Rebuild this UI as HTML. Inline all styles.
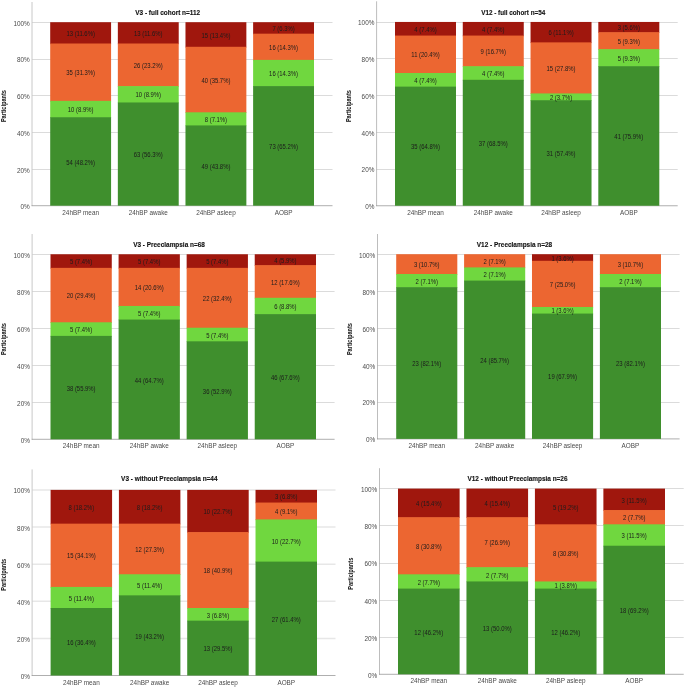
<!DOCTYPE html>
<html><head><meta charset="utf-8"><title>Figure</title>
<style>
html,body{margin:0;padding:0;background:#fff}
svg{display:block}
text{font-family:"Liberation Sans",sans-serif}
.yt{font-size:6.6px;fill:#4a4a4a;text-anchor:end}
.xt{font-size:6.9px;fill:#4a4a4a;text-anchor:middle}
.tt{font-size:6.45px;stroke:#111;stroke-width:0.12px;font-weight:bold;fill:#111;text-anchor:middle}
.pl{font-size:6.6px;font-weight:bold;fill:#111;text-anchor:middle}
.bl{font-size:6.5px;fill:#1c1c1c;text-anchor:middle}
</style></head><body>
<svg width="685" height="687" viewBox="0 0 685 687">
<rect x="0" y="0" width="685" height="687" fill="#ffffff"/>
<g id="chart1">
<line x1="32.0" y1="169.50" x2="332.5" y2="169.50" stroke="#dbdbdb" stroke-width="1"/>
<line x1="32.0" y1="132.50" x2="332.5" y2="132.50" stroke="#dbdbdb" stroke-width="1"/>
<line x1="32.0" y1="95.50" x2="332.5" y2="95.50" stroke="#dbdbdb" stroke-width="1"/>
<line x1="32.0" y1="59.50" x2="332.5" y2="59.50" stroke="#dbdbdb" stroke-width="1"/>
<line x1="32.0" y1="22.50" x2="332.5" y2="22.50" stroke="#dbdbdb" stroke-width="1"/>
<line x1="32.0" y1="2" x2="32.0" y2="206.1" stroke="#c8c8c8" stroke-width="1.0"/>
<line x1="31.6" y1="205.7" x2="332.5" y2="205.7" stroke="#8c8c8c" stroke-width="0.7"/>
<text class="yt" transform="translate(29.80,209.20) scale(0.97,1)">0%</text>
<text class="yt" transform="translate(29.80,172.50) scale(0.97,1)">20%</text>
<text class="yt" transform="translate(29.80,135.80) scale(0.97,1)">40%</text>
<text class="yt" transform="translate(29.80,99.10) scale(0.97,1)">60%</text>
<text class="yt" transform="translate(29.80,62.40) scale(0.97,1)">80%</text>
<text class="yt" transform="translate(29.80,25.70) scale(0.97,1)">100%</text>
<rect x="50.20" y="22.20" width="60.88" height="22.00" fill="#a0170d"/>
<rect x="50.20" y="43.50" width="60.88" height="58.04" fill="#ec6631"/>
<rect x="50.20" y="100.84" width="60.88" height="17.08" fill="#70d73f"/>
<rect x="50.20" y="117.23" width="60.88" height="88.47" fill="#3f8f2d"/>
<text class="bl" transform="translate(80.64,164.66) scale(0.91,1)">54 (48.2%)</text>
<text class="bl" transform="translate(80.64,112.23) scale(0.91,1)">10 (8.9%)</text>
<text class="bl" transform="translate(80.64,75.37) scale(0.91,1)">35 (31.3%)</text>
<text class="bl" transform="translate(80.64,36.05) scale(0.91,1)">13 (11.6%)</text>
<text class="xt" transform="translate(80.64,214.80) scale(0.925,1)">24hBP mean</text>
<rect x="117.84" y="22.20" width="60.88" height="22.00" fill="#a0170d"/>
<rect x="117.84" y="43.50" width="60.88" height="43.30" fill="#ec6631"/>
<rect x="117.84" y="86.10" width="60.88" height="17.08" fill="#70d73f"/>
<rect x="117.84" y="102.48" width="60.88" height="103.22" fill="#3f8f2d"/>
<text class="bl" transform="translate(148.28,157.29) scale(0.91,1)">63 (56.3%)</text>
<text class="bl" transform="translate(148.28,97.49) scale(0.91,1)">10 (8.9%)</text>
<text class="bl" transform="translate(148.28,68.00) scale(0.91,1)">26 (23.2%)</text>
<text class="bl" transform="translate(148.28,36.05) scale(0.91,1)">13 (11.6%)</text>
<text class="xt" transform="translate(148.28,214.80) scale(0.925,1)">24hBP awake</text>
<rect x="185.48" y="22.20" width="60.88" height="25.28" fill="#a0170d"/>
<rect x="185.48" y="46.78" width="60.88" height="66.24" fill="#ec6631"/>
<rect x="185.48" y="112.31" width="60.88" height="13.81" fill="#70d73f"/>
<rect x="185.48" y="125.42" width="60.88" height="80.28" fill="#3f8f2d"/>
<text class="bl" transform="translate(215.92,168.76) scale(0.91,1)">49 (43.8%)</text>
<text class="bl" transform="translate(215.92,122.07) scale(0.91,1)">8 (7.1%)</text>
<text class="bl" transform="translate(215.92,82.74) scale(0.91,1)">40 (35.7%)</text>
<text class="bl" transform="translate(215.92,37.69) scale(0.91,1)">15 (13.4%)</text>
<text class="xt" transform="translate(215.92,214.80) scale(0.925,1)">24hBP asleep</text>
<rect x="253.12" y="22.20" width="60.88" height="12.17" fill="#a0170d"/>
<rect x="253.12" y="33.67" width="60.88" height="26.91" fill="#ec6631"/>
<rect x="253.12" y="59.88" width="60.88" height="26.91" fill="#70d73f"/>
<rect x="253.12" y="86.10" width="60.88" height="119.60" fill="#3f8f2d"/>
<text class="bl" transform="translate(283.56,149.10) scale(0.91,1)">73 (65.2%)</text>
<text class="bl" transform="translate(283.56,76.19) scale(0.91,1)">16 (14.3%)</text>
<text class="bl" transform="translate(283.56,49.98) scale(0.91,1)">16 (14.3%)</text>
<text class="bl" transform="translate(283.56,31.13) scale(0.91,1)">7 (6.3%)</text>
<text class="xt" transform="translate(283.56,214.80) scale(0.925,1)">AOBP</text>
<text class="tt" transform="translate(167.7,14.5) scale(1,1)">V3 - full cohort n=112</text>
<text class="pl" transform="translate(6.0,106.1) rotate(-90) scale(0.85,1)">Participants</text>
</g>
<g id="chart2">
<line x1="376.6" y1="169.50" x2="677.7" y2="169.50" stroke="#dbdbdb" stroke-width="1"/>
<line x1="376.6" y1="132.50" x2="677.7" y2="132.50" stroke="#dbdbdb" stroke-width="1"/>
<line x1="376.6" y1="95.50" x2="677.7" y2="95.50" stroke="#dbdbdb" stroke-width="1"/>
<line x1="376.6" y1="58.50" x2="677.7" y2="58.50" stroke="#dbdbdb" stroke-width="1"/>
<line x1="376.6" y1="22.50" x2="677.7" y2="22.50" stroke="#dbdbdb" stroke-width="1"/>
<line x1="376.6" y1="1.3" x2="376.6" y2="206.15" stroke="#909090" stroke-width="0.6"/>
<line x1="376.20000000000005" y1="205.75" x2="677.7" y2="205.75" stroke="#8c8c8c" stroke-width="0.7"/>
<text class="yt" transform="translate(374.40,209.25) scale(0.97,1)">0%</text>
<text class="yt" transform="translate(374.40,172.49) scale(0.97,1)">20%</text>
<text class="yt" transform="translate(374.40,135.73) scale(0.97,1)">40%</text>
<text class="yt" transform="translate(374.40,98.97) scale(0.97,1)">60%</text>
<text class="yt" transform="translate(374.40,62.21) scale(0.97,1)">80%</text>
<text class="yt" transform="translate(374.40,25.45) scale(0.97,1)">100%</text>
<rect x="395.00" y="21.95" width="60.99" height="14.31" fill="#a0170d"/>
<rect x="395.00" y="35.56" width="60.99" height="38.14" fill="#ec6631"/>
<rect x="395.00" y="73.01" width="60.99" height="14.31" fill="#70d73f"/>
<rect x="395.00" y="86.62" width="60.99" height="119.13" fill="#3f8f2d"/>
<text class="bl" transform="translate(425.50,149.39) scale(0.91,1)">35 (64.8%)</text>
<text class="bl" transform="translate(425.50,83.01) scale(0.91,1)">4 (7.4%)</text>
<text class="bl" transform="translate(425.50,57.49) scale(0.91,1)">11 (20.4%)</text>
<text class="bl" transform="translate(425.50,31.96) scale(0.91,1)">4 (7.4%)</text>
<text class="xt" transform="translate(425.50,214.85) scale(0.925,1)">24hBP mean</text>
<rect x="462.77" y="21.95" width="60.99" height="14.31" fill="#a0170d"/>
<rect x="462.77" y="35.56" width="60.99" height="31.33" fill="#ec6631"/>
<rect x="462.77" y="66.20" width="60.99" height="14.31" fill="#70d73f"/>
<rect x="462.77" y="79.81" width="60.99" height="125.94" fill="#3f8f2d"/>
<text class="bl" transform="translate(493.27,145.98) scale(0.91,1)">37 (68.5%)</text>
<text class="bl" transform="translate(493.27,76.21) scale(0.91,1)">4 (7.4%)</text>
<text class="bl" transform="translate(493.27,54.08) scale(0.91,1)">9 (16.7%)</text>
<text class="bl" transform="translate(493.27,31.96) scale(0.91,1)">4 (7.4%)</text>
<text class="xt" transform="translate(493.27,214.85) scale(0.925,1)">24hBP awake</text>
<rect x="530.54" y="21.95" width="60.99" height="21.12" fill="#a0170d"/>
<rect x="530.54" y="42.37" width="60.99" height="51.76" fill="#ec6631"/>
<rect x="530.54" y="93.43" width="60.99" height="7.51" fill="#70d73f"/>
<rect x="530.54" y="100.24" width="60.99" height="105.51" fill="#3f8f2d"/>
<text class="bl" transform="translate(561.03,156.19) scale(0.91,1)">31 (57.4%)</text>
<text class="bl" transform="translate(561.03,100.03) scale(0.91,1)">2 (3.7%)</text>
<text class="bl" transform="translate(561.03,71.10) scale(0.91,1)">15 (27.8%)</text>
<text class="bl" transform="translate(561.03,35.36) scale(0.91,1)">6 (11.1%)</text>
<text class="xt" transform="translate(561.03,214.85) scale(0.925,1)">24hBP asleep</text>
<rect x="598.31" y="21.95" width="60.99" height="10.91" fill="#a0170d"/>
<rect x="598.31" y="32.16" width="60.99" height="17.72" fill="#ec6631"/>
<rect x="598.31" y="49.18" width="60.99" height="17.72" fill="#70d73f"/>
<rect x="598.31" y="66.20" width="60.99" height="139.55" fill="#3f8f2d"/>
<text class="bl" transform="translate(628.80,139.17) scale(0.91,1)">41 (75.9%)</text>
<text class="bl" transform="translate(628.80,60.89) scale(0.91,1)">5 (9.3%)</text>
<text class="bl" transform="translate(628.80,43.87) scale(0.91,1)">5 (9.3%)</text>
<text class="bl" transform="translate(628.80,30.26) scale(0.91,1)">3 (5.6%)</text>
<text class="xt" transform="translate(628.80,214.85) scale(0.925,1)">AOBP</text>
<text class="tt" transform="translate(513.2,15.3) scale(0.98,1)">V12 - full cohort n=54</text>
<text class="pl" transform="translate(351.3,106.1) rotate(-90) scale(0.85,1)">Participants</text>
</g>
<g id="chart3">
<line x1="32.1" y1="402.50" x2="334.6" y2="402.50" stroke="#dbdbdb" stroke-width="1"/>
<line x1="32.1" y1="365.50" x2="334.6" y2="365.50" stroke="#dbdbdb" stroke-width="1"/>
<line x1="32.1" y1="328.50" x2="334.6" y2="328.50" stroke="#dbdbdb" stroke-width="1"/>
<line x1="32.1" y1="291.50" x2="334.6" y2="291.50" stroke="#dbdbdb" stroke-width="1"/>
<line x1="32.1" y1="254.50" x2="334.6" y2="254.50" stroke="#dbdbdb" stroke-width="1"/>
<line x1="32.1" y1="234" x2="32.1" y2="439.7" stroke="#c8c8c8" stroke-width="1.0"/>
<line x1="31.700000000000003" y1="439.3" x2="334.6" y2="439.3" stroke="#8c8c8c" stroke-width="0.7"/>
<text class="yt" transform="translate(29.90,442.80) scale(0.97,1)">0%</text>
<text class="yt" transform="translate(29.90,405.79) scale(0.97,1)">20%</text>
<text class="yt" transform="translate(29.90,368.78) scale(0.97,1)">40%</text>
<text class="yt" transform="translate(29.90,331.77) scale(0.97,1)">60%</text>
<text class="yt" transform="translate(29.90,294.76) scale(0.97,1)">80%</text>
<text class="yt" transform="translate(29.90,257.75) scale(0.97,1)">100%</text>
<rect x="50.50" y="254.25" width="61.27" height="14.31" fill="#a0170d"/>
<rect x="50.50" y="267.86" width="61.27" height="55.13" fill="#ec6631"/>
<rect x="50.50" y="322.28" width="61.27" height="14.31" fill="#70d73f"/>
<rect x="50.50" y="335.89" width="61.27" height="103.41" fill="#3f8f2d"/>
<text class="bl" transform="translate(81.13,390.79) scale(0.91,1)">38 (55.9%)</text>
<text class="bl" transform="translate(81.13,332.29) scale(0.91,1)">5 (7.4%)</text>
<text class="bl" transform="translate(81.13,298.27) scale(0.91,1)">20 (29.4%)</text>
<text class="bl" transform="translate(81.13,264.25) scale(0.91,1)">5 (7.4%)</text>
<text class="xt" transform="translate(81.13,448.40) scale(0.925,1)">24hBP mean</text>
<rect x="118.58" y="254.25" width="61.27" height="14.31" fill="#a0170d"/>
<rect x="118.58" y="267.86" width="61.27" height="38.80" fill="#ec6631"/>
<rect x="118.58" y="305.96" width="61.27" height="14.31" fill="#70d73f"/>
<rect x="118.58" y="319.56" width="61.27" height="119.74" fill="#3f8f2d"/>
<text class="bl" transform="translate(149.21,382.63) scale(0.91,1)">44 (64.7%)</text>
<text class="bl" transform="translate(149.21,315.96) scale(0.91,1)">5 (7.4%)</text>
<text class="bl" transform="translate(149.21,290.11) scale(0.91,1)">14 (20.6%)</text>
<text class="bl" transform="translate(149.21,264.25) scale(0.91,1)">5 (7.4%)</text>
<text class="xt" transform="translate(149.21,448.40) scale(0.925,1)">24hBP awake</text>
<rect x="186.65" y="254.25" width="61.27" height="14.31" fill="#a0170d"/>
<rect x="186.65" y="267.86" width="61.27" height="60.57" fill="#ec6631"/>
<rect x="186.65" y="327.73" width="61.27" height="14.31" fill="#70d73f"/>
<rect x="186.65" y="341.33" width="61.27" height="97.97" fill="#3f8f2d"/>
<text class="bl" transform="translate(217.29,393.52) scale(0.91,1)">36 (52.9%)</text>
<text class="bl" transform="translate(217.29,337.73) scale(0.91,1)">5 (7.4%)</text>
<text class="bl" transform="translate(217.29,300.99) scale(0.91,1)">22 (32.4%)</text>
<text class="bl" transform="translate(217.29,264.25) scale(0.91,1)">5 (7.4%)</text>
<text class="xt" transform="translate(217.29,448.40) scale(0.925,1)">24hBP asleep</text>
<rect x="254.73" y="254.25" width="61.27" height="11.59" fill="#a0170d"/>
<rect x="254.73" y="265.14" width="61.27" height="33.36" fill="#ec6631"/>
<rect x="254.73" y="297.79" width="61.27" height="17.03" fill="#70d73f"/>
<rect x="254.73" y="314.12" width="61.27" height="125.18" fill="#3f8f2d"/>
<text class="bl" transform="translate(285.37,379.91) scale(0.91,1)">46 (67.6%)</text>
<text class="bl" transform="translate(285.37,309.16) scale(0.91,1)">6 (8.8%)</text>
<text class="bl" transform="translate(285.37,284.66) scale(0.91,1)">12 (17.6%)</text>
<text class="bl" transform="translate(285.37,262.89) scale(0.91,1)">4 (5.9%)</text>
<text class="xt" transform="translate(285.37,448.40) scale(0.925,1)">AOBP</text>
<text class="tt" transform="translate(169,247.4) scale(1,1)">V3 - Preeclampsia n=68</text>
<text class="pl" transform="translate(6.0,339.1) rotate(-90) scale(0.85,1)">Participants</text>
</g>
<g id="chart4">
<line x1="377.5" y1="402.50" x2="679.6" y2="402.50" stroke="#dbdbdb" stroke-width="1"/>
<line x1="377.5" y1="365.50" x2="679.6" y2="365.50" stroke="#dbdbdb" stroke-width="1"/>
<line x1="377.5" y1="328.50" x2="679.6" y2="328.50" stroke="#dbdbdb" stroke-width="1"/>
<line x1="377.5" y1="291.50" x2="679.6" y2="291.50" stroke="#dbdbdb" stroke-width="1"/>
<line x1="377.5" y1="254.50" x2="679.6" y2="254.50" stroke="#dbdbdb" stroke-width="1"/>
<line x1="377.5" y1="234" x2="377.5" y2="439.29999999999995" stroke="#909090" stroke-width="0.6"/>
<line x1="377.1" y1="438.9" x2="679.6" y2="438.9" stroke="#8c8c8c" stroke-width="0.7"/>
<text class="yt" transform="translate(375.30,442.40) scale(0.97,1)">0%</text>
<text class="yt" transform="translate(375.30,405.46) scale(0.97,1)">20%</text>
<text class="yt" transform="translate(375.30,368.52) scale(0.97,1)">40%</text>
<text class="yt" transform="translate(375.30,331.58) scale(0.97,1)">60%</text>
<text class="yt" transform="translate(375.30,294.64) scale(0.97,1)">80%</text>
<text class="yt" transform="translate(375.30,257.70) scale(0.97,1)">100%</text>
<rect x="396.20" y="254.20" width="61.11" height="20.49" fill="#ec6631"/>
<rect x="396.20" y="273.99" width="61.11" height="13.89" fill="#70d73f"/>
<rect x="396.20" y="287.18" width="61.11" height="151.72" fill="#3f8f2d"/>
<text class="bl" transform="translate(426.75,366.24) scale(0.91,1)">23 (82.1%)</text>
<text class="bl" transform="translate(426.75,283.79) scale(0.91,1)">2 (7.1%)</text>
<text class="bl" transform="translate(426.75,267.29) scale(0.91,1)">3 (10.7%)</text>
<text class="xt" transform="translate(426.75,448.00) scale(0.925,1)">24hBP mean</text>
<rect x="464.10" y="254.20" width="61.11" height="13.89" fill="#ec6631"/>
<rect x="464.10" y="267.39" width="61.11" height="13.89" fill="#70d73f"/>
<rect x="464.10" y="280.59" width="61.11" height="158.31" fill="#3f8f2d"/>
<text class="bl" transform="translate(494.65,362.94) scale(0.91,1)">24 (85.7%)</text>
<text class="bl" transform="translate(494.65,277.19) scale(0.91,1)">2 (7.1%)</text>
<text class="bl" transform="translate(494.65,264.00) scale(0.91,1)">2 (7.1%)</text>
<text class="xt" transform="translate(494.65,448.00) scale(0.925,1)">24hBP awake</text>
<rect x="531.99" y="254.20" width="61.11" height="7.30" fill="#a0170d"/>
<rect x="531.99" y="260.80" width="61.11" height="46.87" fill="#ec6631"/>
<rect x="531.99" y="306.97" width="61.11" height="7.30" fill="#70d73f"/>
<rect x="531.99" y="313.57" width="61.11" height="125.33" fill="#3f8f2d"/>
<text class="bl" transform="translate(562.55,379.43) scale(0.91,1)">19 (67.9%)</text>
<text class="bl" transform="translate(562.55,313.47) scale(0.91,1)">1 (3.6%)</text>
<text class="bl" transform="translate(562.55,287.08) scale(0.91,1)">7 (25.0%)</text>
<text class="bl" transform="translate(562.55,260.70) scale(0.91,1)">1 (3.6%)</text>
<text class="xt" transform="translate(562.55,448.00) scale(0.925,1)">24hBP asleep</text>
<rect x="599.89" y="254.20" width="61.11" height="20.49" fill="#ec6631"/>
<rect x="599.89" y="273.99" width="61.11" height="13.89" fill="#70d73f"/>
<rect x="599.89" y="287.18" width="61.11" height="151.72" fill="#3f8f2d"/>
<text class="bl" transform="translate(630.45,366.24) scale(0.91,1)">23 (82.1%)</text>
<text class="bl" transform="translate(630.45,283.79) scale(0.91,1)">2 (7.1%)</text>
<text class="bl" transform="translate(630.45,267.29) scale(0.91,1)">3 (10.7%)</text>
<text class="xt" transform="translate(630.45,448.00) scale(0.925,1)">AOBP</text>
<text class="tt" transform="translate(514.5,247.2) scale(1,1)">V12 - Preeclampsia n=28</text>
<text class="pl" transform="translate(351.5,339.1) rotate(-90) scale(0.85,1)">Participants</text>
</g>
<g id="chart5">
<line x1="32.1" y1="638.48" x2="335.5" y2="638.48" stroke="#e7e7e7" stroke-width="1.5"/>
<line x1="32.1" y1="601.36" x2="335.5" y2="601.36" stroke="#e7e7e7" stroke-width="1.5"/>
<line x1="32.1" y1="564.24" x2="335.5" y2="564.24" stroke="#e7e7e7" stroke-width="1.5"/>
<line x1="32.1" y1="527.12" x2="335.5" y2="527.12" stroke="#e7e7e7" stroke-width="1.5"/>
<line x1="32.1" y1="490.00" x2="335.5" y2="490.00" stroke="#e7e7e7" stroke-width="1.5"/>
<line x1="32.1" y1="469.4" x2="32.1" y2="675.9" stroke="#c8c8c8" stroke-width="1.0"/>
<line x1="31.700000000000003" y1="675.5" x2="335.5" y2="675.5" stroke="#8c8c8c" stroke-width="0.7"/>
<text class="yt" transform="translate(29.90,679.00) scale(0.97,1)">0%</text>
<text class="yt" transform="translate(29.90,641.88) scale(0.97,1)">20%</text>
<text class="yt" transform="translate(29.90,604.76) scale(0.97,1)">40%</text>
<text class="yt" transform="translate(29.90,567.64) scale(0.97,1)">60%</text>
<text class="yt" transform="translate(29.90,530.52) scale(0.97,1)">80%</text>
<text class="yt" transform="translate(29.90,493.40) scale(0.97,1)">100%</text>
<rect x="50.60" y="489.90" width="61.48" height="34.45" fill="#a0170d"/>
<rect x="50.60" y="523.65" width="61.48" height="63.97" fill="#ec6631"/>
<rect x="50.60" y="586.92" width="61.48" height="21.79" fill="#70d73f"/>
<rect x="50.60" y="608.01" width="61.48" height="67.49" fill="#3f8f2d"/>
<text class="bl" transform="translate(81.34,644.95) scale(0.91,1)">16 (36.4%)</text>
<text class="bl" transform="translate(81.34,600.66) scale(0.91,1)">5 (11.4%)</text>
<text class="bl" transform="translate(81.34,558.48) scale(0.91,1)">15 (34.1%)</text>
<text class="bl" transform="translate(81.34,509.97) scale(0.91,1)">8 (18.2%)</text>
<text class="xt" transform="translate(81.34,684.60) scale(0.925,1)">24hBP mean</text>
<rect x="118.91" y="489.90" width="61.48" height="34.45" fill="#a0170d"/>
<rect x="118.91" y="523.65" width="61.48" height="51.32" fill="#ec6631"/>
<rect x="118.91" y="574.26" width="61.48" height="21.79" fill="#70d73f"/>
<rect x="118.91" y="595.35" width="61.48" height="80.15" fill="#3f8f2d"/>
<text class="bl" transform="translate(149.65,638.63) scale(0.91,1)">19 (43.2%)</text>
<text class="bl" transform="translate(149.65,588.01) scale(0.91,1)">5 (11.4%)</text>
<text class="bl" transform="translate(149.65,552.15) scale(0.91,1)">12 (27.3%)</text>
<text class="bl" transform="translate(149.65,509.97) scale(0.91,1)">8 (18.2%)</text>
<text class="xt" transform="translate(149.65,684.60) scale(0.925,1)">24hBP awake</text>
<rect x="187.22" y="489.90" width="61.48" height="42.88" fill="#a0170d"/>
<rect x="187.22" y="532.08" width="61.48" height="76.63" fill="#ec6631"/>
<rect x="187.22" y="608.01" width="61.48" height="13.35" fill="#70d73f"/>
<rect x="187.22" y="620.66" width="61.48" height="54.84" fill="#3f8f2d"/>
<text class="bl" transform="translate(217.95,651.28) scale(0.91,1)">13 (29.5%)</text>
<text class="bl" transform="translate(217.95,617.54) scale(0.91,1)">3 (6.8%)</text>
<text class="bl" transform="translate(217.95,573.25) scale(0.91,1)">18 (40.9%)</text>
<text class="bl" transform="translate(217.95,514.19) scale(0.91,1)">10 (22.7%)</text>
<text class="xt" transform="translate(217.95,684.60) scale(0.925,1)">24hBP asleep</text>
<rect x="255.52" y="489.90" width="61.48" height="13.35" fill="#a0170d"/>
<rect x="255.52" y="502.55" width="61.48" height="17.57" fill="#ec6631"/>
<rect x="255.52" y="519.43" width="61.48" height="42.88" fill="#70d73f"/>
<rect x="255.52" y="561.61" width="61.48" height="113.89" fill="#3f8f2d"/>
<text class="bl" transform="translate(286.26,621.75) scale(0.91,1)">27 (61.4%)</text>
<text class="bl" transform="translate(286.26,543.72) scale(0.91,1)">10 (22.7%)</text>
<text class="bl" transform="translate(286.26,514.19) scale(0.91,1)">4 (9.1%)</text>
<text class="bl" transform="translate(286.26,499.43) scale(0.91,1)">3 (6.8%)</text>
<text class="xt" transform="translate(286.26,684.60) scale(0.925,1)">AOBP</text>
<text class="tt" transform="translate(169.3,481) scale(1,1)">V3 - without Preeclampsia n=44</text>
<text class="pl" transform="translate(6.0,574.8) rotate(-90) scale(0.85,1)">Participants</text>
</g>
<g id="chart6">
<line x1="379.5" y1="637.50" x2="683.7" y2="637.50" stroke="#dbdbdb" stroke-width="1"/>
<line x1="379.5" y1="600.50" x2="683.7" y2="600.50" stroke="#dbdbdb" stroke-width="1"/>
<line x1="379.5" y1="563.50" x2="683.7" y2="563.50" stroke="#dbdbdb" stroke-width="1"/>
<line x1="379.5" y1="525.50" x2="683.7" y2="525.50" stroke="#dbdbdb" stroke-width="1"/>
<line x1="379.5" y1="488.50" x2="683.7" y2="488.50" stroke="#dbdbdb" stroke-width="1"/>
<line x1="379.5" y1="468.2" x2="379.5" y2="674.6999999999999" stroke="#909090" stroke-width="0.6"/>
<line x1="379.1" y1="674.3" x2="683.7" y2="674.3" stroke="#8c8c8c" stroke-width="0.7"/>
<text class="yt" transform="translate(377.30,677.80) scale(0.97,1)">0%</text>
<text class="yt" transform="translate(377.30,640.66) scale(0.97,1)">20%</text>
<text class="yt" transform="translate(377.30,603.52) scale(0.97,1)">40%</text>
<text class="yt" transform="translate(377.30,566.38) scale(0.97,1)">60%</text>
<text class="yt" transform="translate(377.30,529.24) scale(0.97,1)">80%</text>
<text class="yt" transform="translate(377.30,492.10) scale(0.97,1)">100%</text>
<rect x="398.00" y="488.60" width="61.62" height="29.27" fill="#a0170d"/>
<rect x="398.00" y="517.17" width="61.62" height="57.84" fill="#ec6631"/>
<rect x="398.00" y="574.31" width="61.62" height="14.98" fill="#70d73f"/>
<rect x="398.00" y="588.59" width="61.62" height="85.71" fill="#3f8f2d"/>
<text class="bl" transform="translate(428.81,634.65) scale(0.91,1)">12 (46.2%)</text>
<text class="bl" transform="translate(428.81,584.65) scale(0.91,1)">2 (7.7%)</text>
<text class="bl" transform="translate(428.81,548.94) scale(0.91,1)">8 (30.8%)</text>
<text class="bl" transform="translate(428.81,506.08) scale(0.91,1)">4 (15.4%)</text>
<text class="xt" transform="translate(428.81,683.40) scale(0.925,1)">24hBP mean</text>
<rect x="466.46" y="488.60" width="61.62" height="29.27" fill="#a0170d"/>
<rect x="466.46" y="517.17" width="61.62" height="50.70" fill="#ec6631"/>
<rect x="466.46" y="567.17" width="61.62" height="14.98" fill="#70d73f"/>
<rect x="466.46" y="581.45" width="61.62" height="92.85" fill="#3f8f2d"/>
<text class="bl" transform="translate(497.27,631.08) scale(0.91,1)">13 (50.0%)</text>
<text class="bl" transform="translate(497.27,577.51) scale(0.91,1)">2 (7.7%)</text>
<text class="bl" transform="translate(497.27,545.37) scale(0.91,1)">7 (26.9%)</text>
<text class="bl" transform="translate(497.27,506.08) scale(0.91,1)">4 (15.4%)</text>
<text class="xt" transform="translate(497.27,683.40) scale(0.925,1)">24hBP awake</text>
<rect x="534.92" y="488.60" width="61.62" height="36.41" fill="#a0170d"/>
<rect x="534.92" y="524.31" width="61.62" height="57.84" fill="#ec6631"/>
<rect x="534.92" y="581.45" width="61.62" height="7.84" fill="#70d73f"/>
<rect x="534.92" y="588.59" width="61.62" height="85.71" fill="#3f8f2d"/>
<text class="bl" transform="translate(565.73,634.65) scale(0.91,1)">12 (46.2%)</text>
<text class="bl" transform="translate(565.73,588.22) scale(0.91,1)">1 (3.8%)</text>
<text class="bl" transform="translate(565.73,556.08) scale(0.91,1)">8 (30.8%)</text>
<text class="bl" transform="translate(565.73,509.66) scale(0.91,1)">5 (19.2%)</text>
<text class="xt" transform="translate(565.73,683.40) scale(0.925,1)">24hBP asleep</text>
<rect x="603.38" y="488.60" width="61.62" height="22.13" fill="#a0170d"/>
<rect x="603.38" y="510.03" width="61.62" height="14.98" fill="#ec6631"/>
<rect x="603.38" y="524.31" width="61.62" height="22.13" fill="#70d73f"/>
<rect x="603.38" y="545.74" width="61.62" height="128.56" fill="#3f8f2d"/>
<text class="bl" transform="translate(634.19,613.22) scale(0.91,1)">18 (69.2%)</text>
<text class="bl" transform="translate(634.19,538.23) scale(0.91,1)">3 (11.5%)</text>
<text class="bl" transform="translate(634.19,520.37) scale(0.91,1)">2 (7.7%)</text>
<text class="bl" transform="translate(634.19,502.51) scale(0.91,1)">3 (11.5%)</text>
<text class="xt" transform="translate(634.19,683.40) scale(0.925,1)">AOBP</text>
<text class="tt" transform="translate(517.5,481.2) scale(1,1)">V12 - without Preeclampsia n=26</text>
<text class="pl" transform="translate(352.65,573.75) rotate(-90) scale(0.85,1)">Participants</text>
</g>
</svg>
</body></html>
